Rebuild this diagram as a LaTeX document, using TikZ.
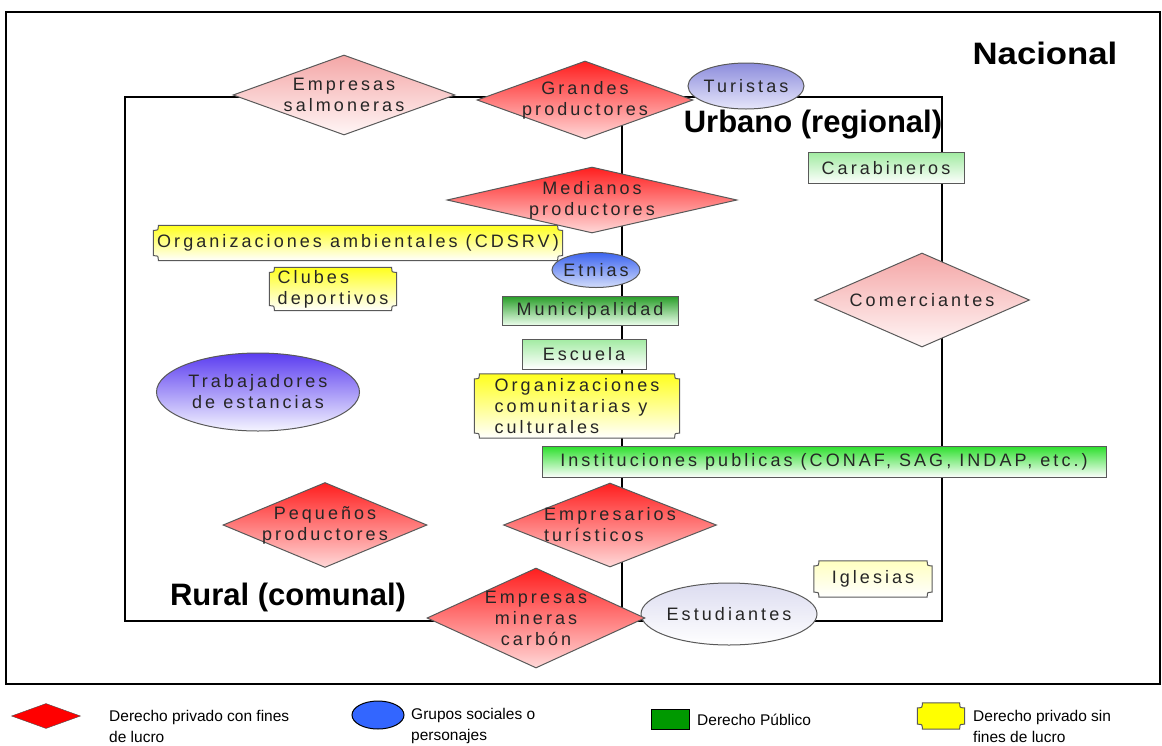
\documentclass[tikz,border=0pt]{standalone}
\usepackage{fontspec}
\setmainfont{Liberation Sans}
\newfontfamily\boxfont{Liberation Sans}[LetterSpace=17]
\usetikzlibrary{shapes.geometric,backgrounds}

\definecolor{rojoA}{HTML}{FF1E1E}
\definecolor{rojoB}{HTML}{FFD8D8}
\definecolor{rosaA}{HTML}{F4A6A6}
\definecolor{rosaB}{HTML}{FFF6F6}
\definecolor{verdeA}{HTML}{2A9E2A}
\definecolor{verdeB}{HTML}{EEFFEE}
\definecolor{vivoA}{HTML}{2EE02E}
\definecolor{claroA}{HTML}{A2EBA2}
\definecolor{amarA}{HTML}{FFFF1E}
\definecolor{amarP}{HTML}{FFFFC0}
\definecolor{lilaA}{HTML}{8C8CDC}
\definecolor{lilaB}{HTML}{E6E6FA}
\definecolor{azulA}{HTML}{3C64F0}
\definecolor{azulB}{HTML}{D2DCFA}
\definecolor{moraA}{HTML}{5A3CF0}
\definecolor{moraB}{HTML}{F5F5FF}
\definecolor{nieve}{HTML}{DCDCF0}
\definecolor{leyazul}{HTML}{3366FF}
\definecolor{leyverde}{HTML}{009900}

% outline of the yellow "placa" boxes (concave corners)
\newcommand{\plaquepath}[1]{%
  ([xshift=5pt]#1.north west) -- ([xshift=-5pt]#1.north east)
  .. controls ([xshift=-5pt,yshift=-5pt]#1.north east) .. ([yshift=-5pt]#1.north east)
  -- ([yshift=5pt]#1.south east)
  .. controls ([xshift=-5pt,yshift=5pt]#1.south east) .. ([xshift=-5pt]#1.south east)
  -- ([xshift=5pt]#1.south west)
  .. controls ([xshift=5pt,yshift=5pt]#1.south west) .. ([yshift=5pt]#1.south west)
  -- ([yshift=-5pt]#1.north west)
  .. controls ([xshift=5pt,yshift=-5pt]#1.north west) .. ([xshift=5pt]#1.north west) -- cycle}

\tikzset{
  borde/.style={draw=black!65, line width=1pt},
  txt/.style={font=\boxfont\fontsize{18}{21}\selectfont, text=black!85, align=center, inner sep=0pt},
  dia/.style={diamond, borde, inner sep=0pt},
  oval/.style={ellipse, borde, inner sep=0pt},
  caja/.style={rectangle, borde, txt},
  placa/.style={rectangle, txt, draw=none},
  rojo/.style={top color=rojoA, bottom color=rojoB},
  rosa/.style={top color=rosaA, bottom color=rosaB},
  titulo/.style={font=\bfseries\fontsize{31}{34}\selectfont, inner sep=0pt},
  zona/.style={line width=2.6pt, line cap=rect},
  leytxt/.style={font=\fontsize{15.5}{21}\selectfont, align=left, inner sep=0pt}
}

\begin{document}
\begin{tikzpicture}[x=1pt,y=-1pt]
    \useasboundingbox (0,0) rectangle (1162,745);

    % corners of the two zones
    \coordinate (nw) at (125,97);
    \coordinate (ne) at (942,97);
    \coordinate (se) at (942,621);
    \coordinate (sw) at (125,621);
    \coordinate (mt) at (622,97);
    \coordinate (mb) at (622,621);
    \coordinate (fa) at (6,12);
    \coordinate (fb) at (1160,684);

    \begin{pgfonlayer}{background}
    \draw[line width=2pt] (fa) rectangle (fb);
    \draw[zona] (nw) -- (ne) -- (se) -- (sw) -- cycle;
    \draw[line width=1.4pt] (mt) -- (mb);
    \end{pgfonlayer}

    % level titles
    \node[titulo] (nacional) at (1045,53) {\scalebox{1.12}[1]{Nacional}};
    \node[titulo] (urbano) at (813,125) {Urbano (regional)};
    \node[titulo] (rural) at (288,597) {Rural (comunal)};

    % actors
    \node[dia, rosa, minimum width=222, minimum height=80,
          label={[txt]center:Empresas\\salmoneras}] (salmon) at (344,95) {};
    \node[dia, rojo, minimum width=216, minimum height=78,
          label={[txt]center:Grandes\\productores}] (grandes) at (585,100) {};
    \node[oval, top color=lilaA, bottom color=lilaB, minimum width=116, minimum height=46,
          label={[txt]center:Turistas}] (turistas) at (746,86) {};
    \node[dia, rojo, minimum width=290, minimum height=66,
          label={[txt]center:Medianos\\productores}] (medianos) at (592,200) {};
    \node[caja, top color=claroA, bottom color=white, minimum width=156, minimum height=31] (carab) at (886,168) {Carabineros};
    \node[placa, minimum width=409, minimum height=35] (ambient) at (358,243) {Organizaciones ambientales (CDSRV)};
    \node[placa, align=left, minimum width=127, minimum height=43] (clubes) at (333,289) {Clubes\\deportivos};
    \node[oval, top color=azulA, bottom color=azulB, minimum width=88, minimum height=35,
          label={[txt]center:Etnias}] (etnias) at (596,270) {};
    \node[caja, top color=verdeA, bottom color=verdeB, minimum width=176, minimum height=29] (munic) at (590,311) {Municipalidad};
    \node[dia, rosa, minimum width=215, minimum height=94,
          label={[txt]center:Comerciantes}] (comerc) at (922,300) {};
    \node[caja, top color=claroA, bottom color=white, minimum width=124, minimum height=30] (escuela) at (584,354) {Escuela};
    \node[oval, top color=moraA, bottom color=moraB, minimum width=203, minimum height=78,
          label={[txt]center:Trabajadores\\de estancias}] (trabaj) at (258,392) {};
    \node[placa, align=left, minimum width=205, minimum height=64] (comunit) at (577,406) {Organizaciones\\comunitarias y\\culturales};
    \node[caja, top color=vivoA, bottom color=white, minimum width=564, minimum height=31] (instit) at (824,462) {Instituciones publicas (CONAF, SAG, INDAP, etc.)};
    \node[dia, rojo, minimum width=204, minimum height=85,
          label={[txt]center:Pequeños\\productores}] (pequenos) at (325,525) {};
    \node[dia, rojo, minimum width=213, minimum height=84,
          label={[txt, align=left]center:Empresarios\\turísticos}] (empresarios) at (610,525) {};
    \node[placa, minimum width=118, minimum height=36] (iglesias) at (873,579) {Iglesias};
    \node[oval, top color=nieve, bottom color=white, minimum width=176, minimum height=62,
          label={[txt]center:Estudiantes}] (estud) at (729,614) {};
    \node[dia, rojo, minimum width=218, minimum height=100,
          label={[txt]center:Empresas\\mineras\\carbón}] (mineras) at (536,618) {};

    % legend
    \node[diamond, draw=black!70, fill=red, inner sep=0pt, minimum width=69, minimum height=25] (leyrojo) at (46,716) {};
    \node[leytxt, anchor=west] (leyrojotxt) at (109,726) {Derecho privado con fines\\de lucro};
    \node[ellipse, draw=black, line width=1pt, fill=leyazul, inner sep=0pt, minimum width=52, minimum height=28] (leyazul) at (378,715) {};
    \node[leytxt, anchor=west] (leyazultxt) at (411,726) {Grupos sociales o\\personajes};
    \node[rectangle, draw=black, fill=leyverde, inner sep=0pt, minimum width=38, minimum height=20] (leyverde) at (670,719) {};
    \node[leytxt, anchor=west] (leyverdetxt) at (697,720) {Derecho Público};
    \node[placa, minimum width=47, minimum height=26] (leyamar) at (941,716) {};
    \node[leytxt, anchor=west] (leyamartxt) at (973,726) {Derecho privado sin\\fines de lucro};

    % yellow boxes behind their texts
    \begin{pgfonlayer}{background}
    \foreach \n/\c/\d in {ambient/amarA/white, clubes/amarA/white, comunit/amarA/white,
                          iglesias/amarP/white, leyamar/yellow/yellow} {
        \shade[top color=\c, bottom color=\d, borde] \plaquepath{\n};
    }
    \end{pgfonlayer}
\end{tikzpicture}
\end{document}
